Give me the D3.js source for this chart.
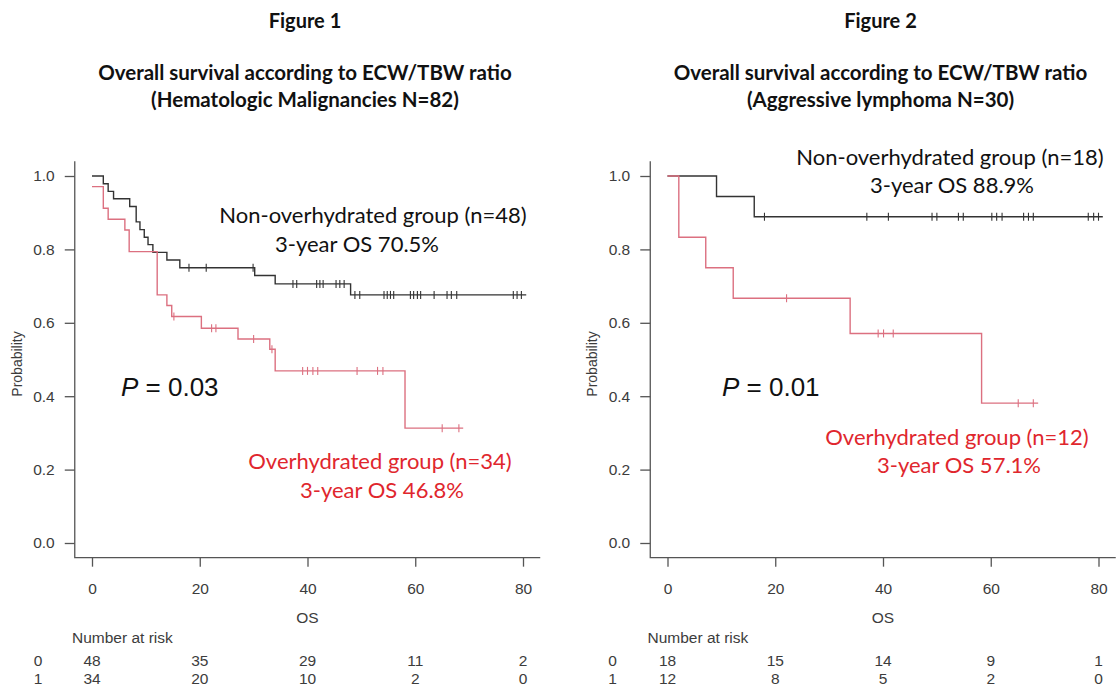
<!DOCTYPE html>
<html>
<head>
<meta charset="utf-8">
<script src="https://cdn.jsdelivr.net/npm/d3@7"></script>
<style>
  body { margin: 0; background: #fff; }
  svg { display: block; }
  .tick-label { font-family: "Liberation Sans", Arial, sans-serif; font-size: 15.5px; fill: #3c3c3c; }
  .title { font-family: Lato, "Open Sans", sans-serif; font-weight: bold; fill: #111; }
  .note { font-family: Lato, "Open Sans", sans-serif; font-size: 22px; }
</style>
</head>
<body>
<svg id="chart" width="1117" height="700"></svg>
<script>
// x ticks shared by both panels
const timeTicks = [0, 20, 40, 60, 80];
const probTicks = [0, 0.2, 0.4, 0.6, 0.8, 1.0];

// Figure 1 - hematologic malignancies, N=82
const fig1NonTimes = [0, 2.1, 3, 4, 7, 8.2, 8.9, 9.7, 10.4, 11.3, 13.9, 16.3, 30.2, 34, 48];
const fig1NonSurv  = [1, 0.979, 0.958, 0.938, 0.917, 0.875, 0.854, 0.833, 0.813, 0.792, 0.771, 0.75, 0.729, 0.706, 0.676];
const fig1NonCensor = [18, 21.2, 29.9, 37.3, 38, 41.7, 42.3, 42.9, 45.3, 46, 46.8, 48.8, 49.7,
                       54.2, 54.8, 55.4, 56, 59.1, 59.7, 60.4, 61, 63.5, 65.9, 66.7, 67.7, 78.2, 78.9, 79.7];
const fig1NonEnd = 80.6;

const fig1OverTimes = [0, 2.1, 3, 6.1, 6.9, 12.1, 13.9, 14.8, 20.3, 27.1, 33, 34, 58.1];
const fig1OverSurv  = [0.971, 0.912, 0.882, 0.853, 0.794, 0.676, 0.647, 0.617, 0.585, 0.556, 0.528, 0.469, 0.313];
const fig1OverCensor = [15.2, 22.2, 23, 30, 33.4, 39.1, 40, 41, 41.9, 49.2, 53, 54, 65, 68.1];
const fig1OverEnd = 68.9;

const fig1RiskNon  = [48, 35, 29, 11, 2];
const fig1RiskOver = [34, 20, 10, 2, 0];

// Figure 2 - aggressive lymphoma, N=30
const fig2NonTimes = [0, 9.1, 16.1];
const fig2NonSurv  = [1, 0.944, 0.889];
const fig2NonCensor = [18, 37, 41, 49.1, 50, 54, 54.9, 60.2, 61.1, 62.1, 66.1, 67, 67.9, 78.1, 79.1, 80];
const fig2NonEnd = 80.8;

const fig2OverTimes = [0, 2.1, 7.1, 12.2, 33.9, 58.3];
const fig2OverSurv  = [1, 0.833, 0.75, 0.667, 0.571, 0.381];
const fig2OverCensor = [22.1, 39.1, 40.1, 41.9, 65.1, 67.9];
const fig2OverEnd = 68.8;

const fig2RiskNon  = [18, 15, 14, 9, 1];
const fig2RiskOver = [12, 8, 5, 2, 0];

const nonColor = "#333";
const overColor = "#dc7080";
const overText = "#e0262d";

const svg = d3.select("#chart");

function survAt(times, surv, t) {
    let s = surv[0];
    for (let i = 0; i < times.length; i++) {
        if (times[i] <= t) s = surv[i];
    }
    return s;
}

function drawCurve(g, x, y, times, surv, censor, end, color) {
    let pts = times.map((t, i) => [t, surv[i]]);
    pts.push([end, surv[surv.length - 1]]);
    g.append("path")
        .attr("d", d3.line().x(d => x(d[0])).y(d => y(d[1])).curve(d3.curveStepAfter)(pts))
        .attr("fill", "none")
        .attr("stroke", color)
        .attr("stroke-width", 1.4);
    g.selectAll(null).data(censor).enter().append("line")
        .attr("x1", d => x(d)).attr("x2", d => x(d))
        .attr("y1", d => y(survAt(times, surv, d)) - 4)
        .attr("y2", d => y(survAt(times, surv, d)) + 4)
        .attr("stroke", color)
        .attr("stroke-width", 1.1);
}

function drawPanel(p) {
    const g = svg.append("g").attr("transform", `translate(${p.dx},0)`);
    const x = d3.scaleLinear().domain([0, 80]).range([92, 523]);
    const y = d3.scaleLinear().domain([0, 1]).range([543, 176]);

    // titles
    g.append("text").attr("class", "title").attr("x", 305).attr("y", 28)
        .attr("text-anchor", "middle").style("font-size", "20px").text(p.figure);
    g.append("text").attr("class", "title").attr("x", 305).attr("y", 80)
        .attr("text-anchor", "middle").style("font-size", "20.5px").text("Overall survival according to ECW/TBW ratio");
    g.append("text").attr("class", "title").attr("x", 305).attr("y", 107)
        .attr("text-anchor", "middle").style("font-size", "20.5px").text(p.subtitle);

    // L-shaped box
    g.append("path")
        .attr("d", `M${x(-3.2)},${y(1.04)}V${y(-0.04)}H${x(83.2)}`)
        .attr("fill", "none").attr("stroke", "#555").attr("stroke-width", 1.3);

    // axes (ticks only, box draws the line)
    const yAxis = g.append("g").attr("transform", `translate(${x(-3.2)},0)`)
        .call(d3.axisLeft(y).tickValues(probTicks).tickFormat(d3.format(".1f")).tickSize(10).tickPadding(10));
    const xAxis = g.append("g").attr("transform", `translate(0,${y(-0.04)})`)
        .call(d3.axisBottom(x).tickValues(timeTicks).tickSize(9).tickPadding(16));
    [yAxis, xAxis].forEach(a => {
        a.select(".domain").remove();
        a.selectAll("line").attr("stroke", "#555").attr("stroke-width", 1.3);
        a.selectAll("text").attr("class", "tick-label").attr("fill", null);
    });

    g.append("text").attr("class", "tick-label")
        .attr("transform", `translate(${x(-3.2) - 53},364) rotate(-90)`)
        .attr("text-anchor", "middle").style("font-size", "14px").text("Probability");
    g.append("text").attr("class", "tick-label").attr("x", x(40)).attr("y", 623)
        .attr("text-anchor", "middle").text("OS");

    // curves
    drawCurve(g, x, y, p.nonTimes, p.nonSurv, p.nonCensor, p.nonEnd, nonColor);
    drawCurve(g, x, y, p.overTimes, p.overSurv, p.overCensor, p.overEnd, overColor);

    // annotations
    const pText = g.append("text").attr("x", p.pX).attr("y", 396)
        .style("font-family", "'Liberation Sans', Arial, sans-serif").style("font-size", "26px").attr("fill", "#111");
    pText.append("tspan").style("font-style", "italic").text("P");
    pText.append("tspan").text(" = " + p.pValue);

    p.notes.forEach(n => {
        g.append("text").attr("class", "note").attr("x", n.x).attr("y", n.y)
            .attr("text-anchor", "middle").attr("fill", n.color).text(n.text);
    });

    // number at risk table
    g.append("text").attr("class", "tick-label").attr("x", x(0) - 20).attr("y", 643)
        .text("Number at risk");
    [[p.riskNon, "0", 666], [p.riskOver, "1", 684]].forEach(([vals, lab, yy]) => {
        g.append("text").attr("class", "tick-label").attr("x", 38 + p.labShift).attr("y", yy)
            .attr("text-anchor", "middle").text(lab);
        g.selectAll(null).data(vals).enter().append("text")
            .attr("class", "tick-label")
            .attr("x", (d, i) => x(timeTicks[i]))
            .attr("y", yy)
            .attr("text-anchor", "middle")
            .text(d => d);
    });
}

drawPanel({
    dx: 0, figure: "Figure 1", subtitle: "(Hematologic Malignancies N=82)",
    nonTimes: fig1NonTimes, nonSurv: fig1NonSurv, nonCensor: fig1NonCensor, nonEnd: fig1NonEnd,
    overTimes: fig1OverTimes, overSurv: fig1OverSurv, overCensor: fig1OverCensor, overEnd: fig1OverEnd,
    riskNon: fig1RiskNon, riskOver: fig1RiskOver, labShift: 0,
    pX: 121, pValue: "0.03",
    notes: [
        {x: 373, y: 223, text: "Non-overhydrated group (n=48)", color: "#111"},
        {x: 357, y: 252, text: "3-year OS 70.5%", color: "#111"},
        {x: 380, y: 469, text: "Overhydrated group (n=34)", color: overText},
        {x: 382, y: 498, text: "3-year OS 46.8%", color: overText}
    ]
});

drawPanel({
    dx: 575.5, figure: "Figure 2", subtitle: "(Aggressive lymphoma N=30)",
    nonTimes: fig2NonTimes, nonSurv: fig2NonSurv, nonCensor: fig2NonCensor, nonEnd: fig2NonEnd,
    overTimes: fig2OverTimes, overSurv: fig2OverSurv, overCensor: fig2OverCensor, overEnd: fig2OverEnd,
    riskNon: fig2RiskNon, riskOver: fig2RiskOver, labShift: -1,
    pX: 722 - 575.5, pValue: "0.01",
    notes: [
        {x: 950 - 575.5, y: 165, text: "Non-overhydrated group (n=18)", color: "#111"},
        {x: 952 - 575.5, y: 193, text: "3-year OS 88.9%", color: "#111"},
        {x: 957 - 575.5, y: 445, text: "Overhydrated group (n=12)", color: overText},
        {x: 959 - 575.5, y: 473, text: "3-year OS 57.1%", color: overText}
    ]
});
</script>
</body>
</html>
